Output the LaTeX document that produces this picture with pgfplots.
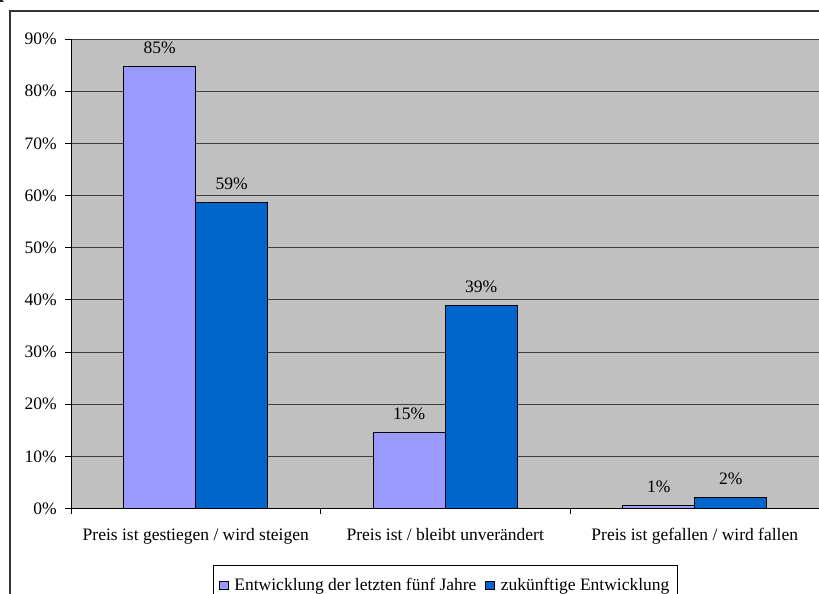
\documentclass[border=0pt]{standalone}
\usepackage{pgfplots}
\pgfplotsset{compat=1.18}
\usepackage{fontspec}
\setmainfont{Liberation Serif}
\definecolor{bgc}{HTML}{C0C0C0}
\definecolor{serA}{HTML}{9999FF}
\definecolor{serB}{HTML}{0066CC}
\newcommand\cf{\fontsize{17.5}{21}\selectfont}
\begin{document}
\begin{tikzpicture}[x=1pt,y=1pt]
\begin{axis}[
  at={(71pt,85.5pt)}, anchor=south west,
  scale only axis, width=748.5pt, height=469.5pt,
  xmin=-0.5, xmax=2.5, ymin=0, ymax=90,
  axis x line*=bottom, axis y line*=left,
  axis line style={black, line width=1pt, -},
  axis background/.style={fill=bgc, draw=gray, line width=1pt},
  ybar=0pt, bar width=72pt,
  ytick={0,10,...,90},
  yticklabels={0\%,10\%,20\%,30\%,40\%,50\%,60\%,70\%,80\%,90\%},
  ymajorgrids, grid style={black!75, line width=0.8pt},
  tick align=outside, major tick length=6pt, tick style={black, line width=1pt},
  xtick={-0.5,0.5,1.5,2.5}, xticklabels={,,,},
  extra x ticks={0,1,2},
  extra x tick labels={Preis ist gestiegen / wird steigen, Preis ist / bleibt unverändert, Preis ist gefallen / wird fallen},
  extra x tick style={major tick length=0pt, grid=none, xticklabel style={font=\cf, inner sep=0pt, anchor=north, yshift=-19.3pt}},
  yticklabel style={font=\cf, inner sep=0pt, anchor=east, xshift=-8pt},
  /pgf/number format/assume math mode=true,
  point meta=y,
  nodes near coords={\pgfmathprintnumber[fixed,precision=0]{\pgfplotspointmeta}\%},
  every node near coord/.append style={font=\cf, anchor=south, inner sep=0pt, yshift=12.3pt, black},
  legend columns=2,
  legend cell align=left,
  legend style={at={(axis description cs:0.5,-0.1203)}, anchor=north, draw=black, line width=0.8pt, fill=white, font=\cf,
    inner xsep=6pt, inner ysep=10pt, nodes={inner xsep=2pt, inner ysep=3pt},
    /tikz/every odd column/.append style={column sep=4pt},
    /tikz/every even column/.append style={column sep=7pt}},
  legend image code/.code={\draw[#1, line width=0.8pt] (0pt,-4.3pt) rectangle (8.6pt,4.3pt);},
]
\addplot[fill=serA, draw=black, line width=1pt] coordinates {(0,84.7) (1,14.6) (2,0.6)};
\addplot[fill=serB, draw=black, line width=1pt] coordinates {(0,58.7) (1,38.9) (2,2.1)};
\legend{Entwicklung der letzten fünf Jahre, zukünftige Entwicklung}
\end{axis}
\draw[line width=1.5pt, black!80] (10pt,-20pt) -- (10pt,583pt) -- (840pt,583pt);
\node[font=\bfseries\fontsize{18}{20}\selectfont, inner sep=0pt, anchor=south west] at (-1pt,591pt) {p};
\pgfresetboundingbox
\useasboundingbox (0,0) rectangle (819pt,594pt);
\end{tikzpicture}
\end{document}
